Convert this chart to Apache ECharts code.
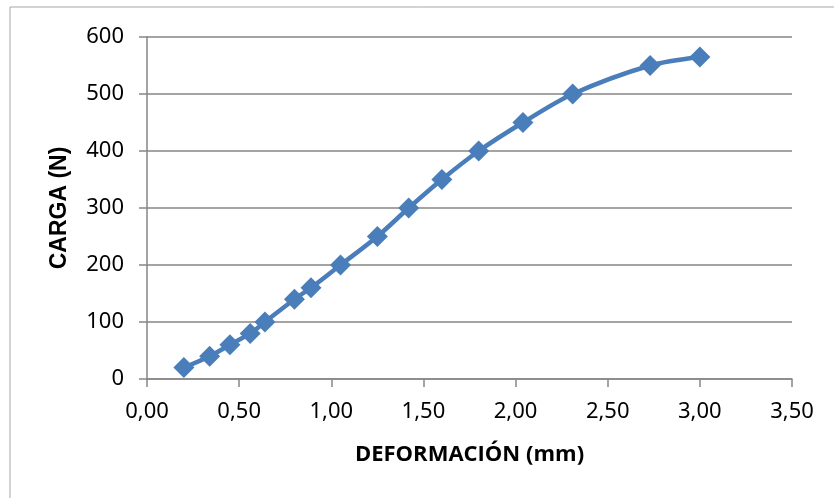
<!DOCTYPE html>
<html>
<head>
<meta charset="utf-8">
<script src="https://cdn.jsdelivr.net/npm/echarts@6/dist/echarts.min.js"></script>
<style>
html,body{margin:0;padding:0;background:#fff;}
#chart{width:834px;height:498px;}
</style>
</head>
<body>
<div id="chart"></div>
<script>
var deformacion = [0.20, 0.34, 0.45, 0.56, 0.64, 0.80, 0.89, 1.05, 1.25, 1.42, 1.60, 1.80, 2.04, 2.31, 2.73, 3.00];
var carga = [20, 40, 60, 80, 100, 140, 160, 200, 250, 300, 350, 400, 450, 500, 550, 565];
var xAxisName = 'DEFORMACIÓN (mm)';
var yAxisName = 'CARGA (N)';

var points = deformacion.map(function (x, i) { return [x, carga[i]]; });

var chart = echarts.init(document.getElementById('chart'));
chart.setOption({
  backgroundColor: '#ffffff',
  animation: false,
  graphic: [{
    type: 'rect',
    shape: { x: 10, y: 7, width: 840, height: 520 },
    style: { fill: 'none', stroke: '#a6a6a6', lineWidth: 1 },
    silent: true
  }],
  grid: { left: 147, right: 42, top: 37, bottom: 119 },
  xAxis: {
    type: 'value',
    min: 0, max: 3.5, interval: 0.5,
    name: xAxisName,
    nameLocation: 'middle',
    nameGap: 65,
    nameTextStyle: { fontFamily: 'Open Sans', fontWeight: 'bold', fontSize: 22, color: '#000' },
    axisLine: { show: true, lineStyle: { color: '#868686', width: 1.5 } },
    axisTick: { show: true, length: 8, lineStyle: { color: '#868686', width: 1.5 } },
    axisLabel: {
      fontFamily: 'Noto Sans', fontSize: 22, color: '#000', margin: 22,
      formatter: function (v) { return v.toFixed(2).replace('.', ','); }
    },
    splitLine: { show: false }
  },
  yAxis: {
    type: 'value',
    min: 0, max: 600, interval: 100,
    name: yAxisName,
    nameLocation: 'middle',
    nameGap: 76,
    nameRotate: 90,
    nameTextStyle: { fontFamily: 'Liberation Sans', fontWeight: 'bold', fontSize: 23, color: '#000' },
    axisLine: { show: true, lineStyle: { color: '#868686', width: 1.5 } },
    axisTick: { show: true, length: 8, lineStyle: { color: '#868686', width: 1.5 } },
    axisLabel: { fontFamily: 'Noto Sans', fontSize: 22, color: '#000', margin: 23 },
    splitLine: { show: true, lineStyle: { color: '#868686', width: 1.5 } }
  },
  series: [{
    type: 'line',
    data: points,
    smooth: 0.3,
    symbol: 'diamond',
    symbolSize: 21,
    lineStyle: { color: '#4a7ebb', width: 4.5 },
    itemStyle: { color: '#4a7ebb' }
  }]
});
</script>
</body>
</html>
